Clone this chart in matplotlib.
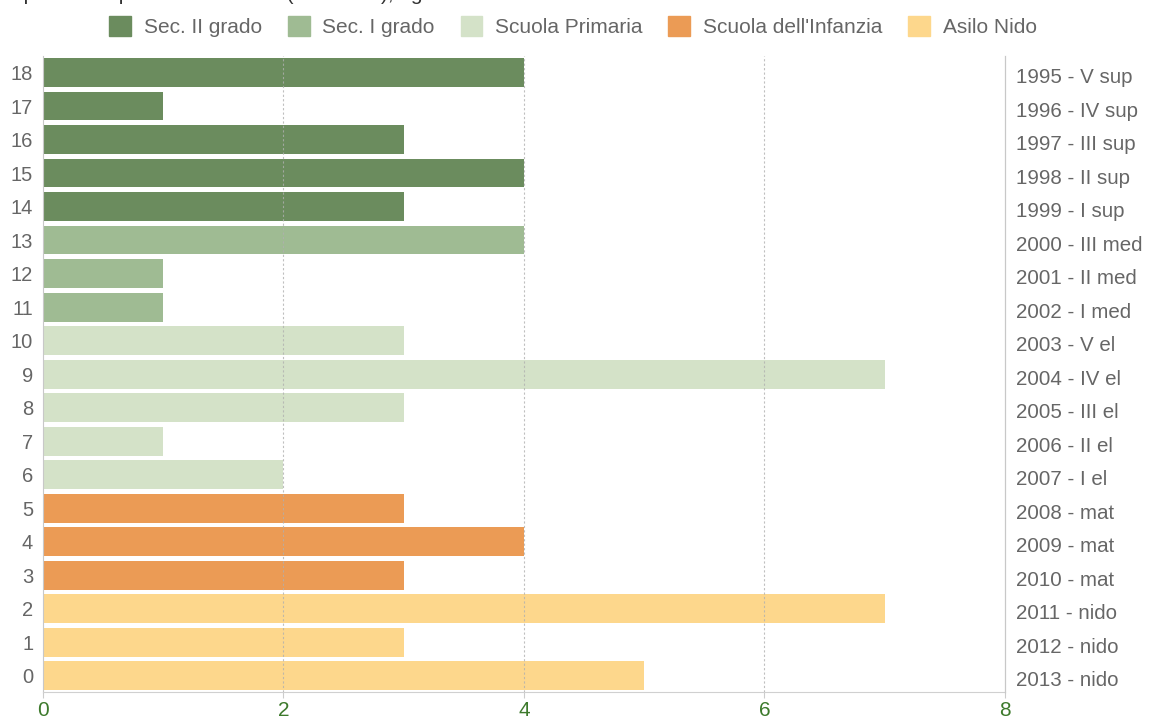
import matplotlib.pyplot as plt
from matplotlib.transforms import ScaledTranslation

# school-age population by year of birth (0-18 anni)
ages = list(range(19))
counts = [5, 3, 7, 3, 4, 3, 2, 1, 3, 7, 3, 1, 1, 4, 3, 4, 3, 1, 4]
classes = ["2013 - nido", "2012 - nido", "2011 - nido", "2010 - mat", "2009 - mat",
           "2008 - mat", "2007 - I el", "2006 - II el", "2005 - III el", "2004 - IV el",
           "2003 - V el", "2002 - I med", "2001 - II med", "2000 - III med", "1999 - I sup",
           "1998 - II sup", "1997 - III sup", "1996 - IV sup", "1995 - V sup"]
levels = ["Asilo Nido"] * 3 + ["Scuola dell'Infanzia"] * 3 + ["Scuola Primaria"] * 5 \
    + ["Sec. I grado"] * 3 + ["Sec. II grado"] * 5
level_order = ["Sec. II grado", "Sec. I grado", "Scuola Primaria",
               "Scuola dell'Infanzia", "Asilo Nido"]
level_colors = {"Sec. II grado": "#6b8c5e", "Sec. I grado": "#9fbb93",
                "Scuola Primaria": "#d4e2c8", "Scuola dell'Infanzia": "#eb9b55",
                "Asilo Nido": "#fdd78c"}

plt.rcParams['font.family'] = ['Liberation Sans', 'DejaVu Sans']

fig = plt.figure(figsize=(11.55, 7.25), dpi=100)
ax = fig.add_axes([0.0372, 0.045, 0.8328, 0.878])

ax.barh(ages, counts, height=0.86, color=[level_colors[l] for l in levels],
        zorder=2)
ax.set_xlim(0, 8)
ax.set_ylim(-0.5, 18.5)

ax.set_yticks(ages)
ax.set_yticklabels([str(a) for a in ages])
ax.tick_params(axis='y', length=0, pad=7, labelsize=14.5, labelcolor='#666666')
ax.set_xticks([0, 2, 4, 6, 8])
ax.tick_params(axis='x', length=4, color='#cccccc', pad=2, labelsize=15,
               labelcolor='#3d7a2c')

for x in [2, 4, 6]:
    ax.axvline(x, color='#b0b0b0', lw=0.8, ls=(0, (2, 2)), zorder=3, alpha=0.8)

ax.spines['top'].set_visible(False)
ax.spines['left'].set_color('#c8c8c8')
ax.spines['bottom'].set_color('#d0d0d0')
ax.spines['right'].set_color('#c8c8c8')

# class labels on the right side
ax2 = ax.twinx()
ax2.set_ylim(ax.get_ylim())
ax2.set_yticks(ages)
ax2.set_yticklabels(classes)
ax2.tick_params(axis='y', length=0, pad=8, labelsize=14.8, labelcolor='#666666')
shift = ScaledTranslation(0, -3 / 100, fig.dpi_scale_trans)
for lbl in ax2.get_yticklabels():
    lbl.set_transform(lbl.get_transform() + shift)
for side in ['top', 'left', 'bottom']:
    ax2.spines[side].set_visible(False)
ax2.spines['right'].set_color('#c8c8c8')

handles = [plt.Rectangle((0, 0), 1, 1, color=level_colors[l]) for l in level_order]
fig.legend(handles, level_order, loc='center', bbox_to_anchor=(0.496, 0.963),
           ncol=5, frameon=False, fontsize=15, labelcolor='#666666',
           handlelength=1.05, handleheight=1.05, handletextpad=0.6,
           columnspacing=1.25)

fig.text(-0.002, 0.9995, "Popolazione per età scolastica (0-18 anni), ogni anno "
         "di nascita ha una classe",
         ha='left', va='baseline', fontsize=15, color='#333333')

fig.savefig('out.png', dpi=100)
